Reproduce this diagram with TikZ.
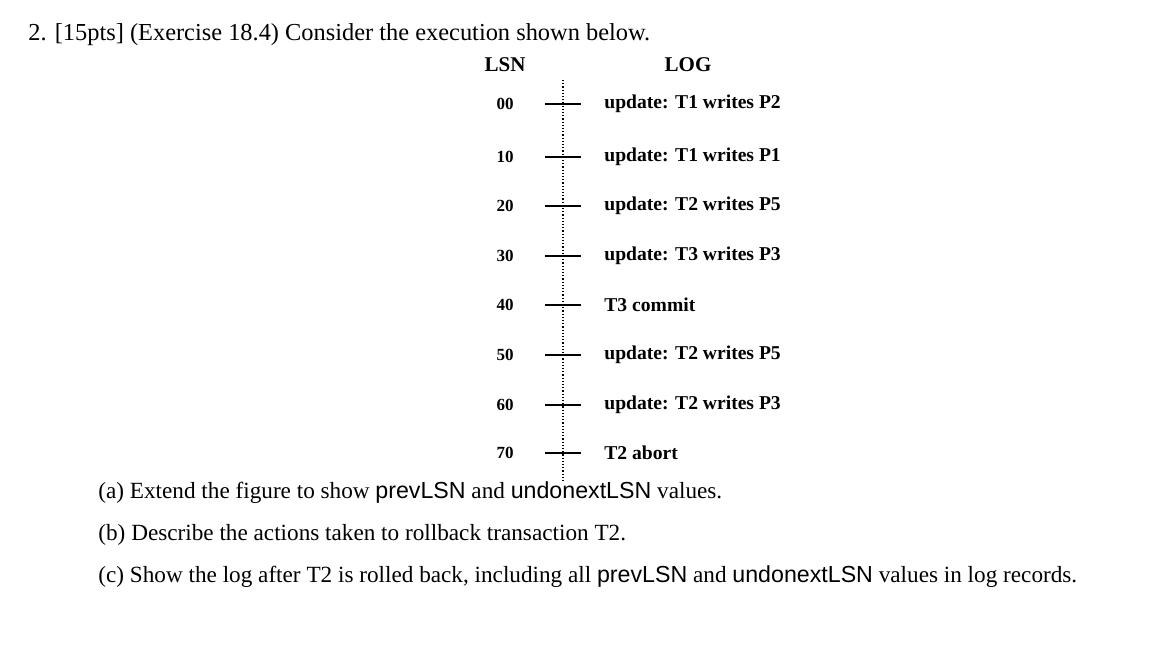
\documentclass[tikz,border=0pt]{standalone}
\usepackage{fontspec}
\setmainfont{Liberation Serif}
\newfontfamily\arialf{Liberation Sans}
\begin{document}
\begin{tikzpicture}[x=0.5pt,y=-0.5pt,
  title/.style={anchor=west,inner sep=0,font=\fontsize{12.2}{14}\selectfont},
  hdr/.style={inner sep=0,font=\fontsize{10.5}{12}\selectfont\bfseries},
  lsn/.style={inner sep=0,font=\fontsize{8.5}{10}\selectfont\bfseries},
  logt/.style={anchor=west,inner sep=0,font=\fontsize{9.8}{12}\selectfont\bfseries},
  tick/.style={line width=1pt},
  q/.style={anchor=west,inner sep=0,font=\fontsize{11.6}{14}\selectfont}]
\useasboundingbox (0,0) rectangle (1174,672);
\node[title] (t) at (28,35) {2. [15pts] (Exercise 18.4) Consider the execution shown below.};
\node[hdr] (hl) at (505,65) {LSN};
\node[hdr] (hg) at (688,65) {LOG};
\coordinate (top) at (563,80);
\coordinate (bot) at (563,482);
\draw[densely dotted,line width=0.6pt] (top) -- (bot);
\foreach \y/\n/\t [count=\i] in {104/00/update: T1 writes P2,157/10/update: T1 writes P1,206/20/update: T2 writes P5,256/30/update: T3 writes P3,305/40/T3 commit,355/50/update: T2 writes P5,405/60/update: T2 writes P3,453/70/T2 abort}{
  \node[lsn] (n\i) at (505,\y) {\n};
  \node[logt] (l\i) at (604,\y) {\t};
  \coordinate (a\i) at (545,\y);
  \coordinate (b\i) at (581,\y);
  \draw[tick] (a\i) -- (b\i);
}
\node[q] (qa) at (98,493) {(a) Extend the figure to show {\arialf prevLSN} and {\arialf undonextLSN} values.};
\node[q] (qb) at (98,535) {(b) Describe the actions taken to rollback transaction T2.};
\node[q] (qc) at (98,577) {(c) Show the log after T2 is rolled back, including all {\arialf prevLSN} and {\arialf undonextLSN} values in log records.};
\end{tikzpicture}
\end{document}
